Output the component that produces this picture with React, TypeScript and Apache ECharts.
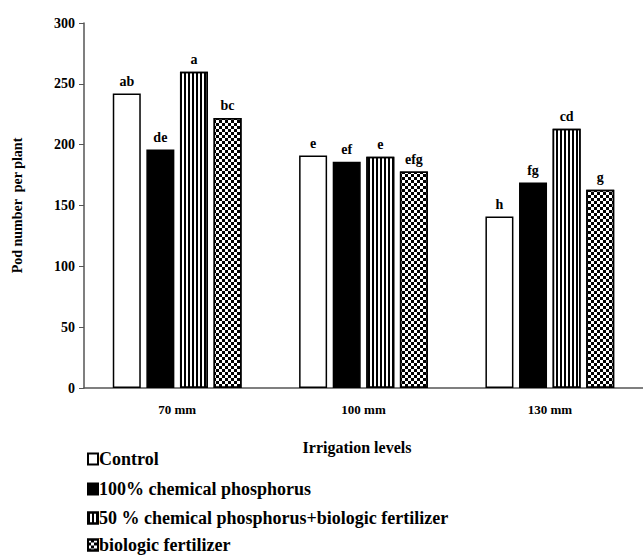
import React, { useEffect, useRef } from "react";
import * as echarts from "echarts";

const categories = ["70 mm", "100 mm", "130 mm"];
const seriesNames = [
  "Control",
  "100% chemical phosphorus",
  "50 % chemical phosphorus+biologic fertilizer",
  "biologic fertilizer",
];
const controlValues = [242, 191, 141];
const chemicalValues = [196, 186, 169];
const mixedValues = [260, 190, 213];
const biologicValues = [222, 178, 163];

const controlLetters = ["ab", "e", "h"];
const chemicalLetters = ["de", "ef", "fg"];
const mixedLetters = ["a", "e", "cd"];
const biologicLetters = ["bc", "efg", "g"];

const yTicks = [0, 50, 100, 150, 200, 250, 300];

const FONT = "'Liberation Serif', 'Times New Roman', serif";

export default function App() {
  const ref = useRef<HTMLDivElement>(null);
  useEffect(() => {
    if (!ref.current) return;
    const chart = echarts.init(ref.current, undefined, { renderer: "svg" });
    const mkLabel = (letters: string[]) => ({
      show: true,
      position: "top" as const,
      distance: 5,
      formatter: (p: any) => letters[p.dataIndex],
      fontFamily: FONT,
      fontWeight: "bold" as const,
      fontSize: 14,
      color: "#000",
    });
    const base = {
      type: "bar" as const,
      barWidth: 28,
      barGap: "20%",
    };
    const values = [controlValues, chemicalValues, mixedValues, biologicValues];
    const letters = [controlLetters, chemicalLetters, mixedLetters, biologicLetters];
    const styles: any[] = [
      { color: "#fff", borderColor: "#000", borderWidth: 1.5 },
      { color: "#000", borderColor: "#000", borderWidth: 1.5 },
      {
        color: "#fff",
        borderColor: "#000",
        borderWidth: 1.5,
        decal: {
          symbol: "rect",
          symbolSize: 1,
          color: "#000",
          backgroundColor: "#fff",
          dashArrayX: [1.5, 2],
          dashArrayY: [10, 0],
          rotation: 0,
        },
      },
      {
        color: "#fff",
        borderColor: "#000",
        borderWidth: 1.5,
        decal: {
          symbol: "rect",
          symbolSize: 1,
          color: "#000",
          backgroundColor: "#fff",
          dashArrayX: [
            [3, 3],
            [0, 3, 3, 0],
          ],
          dashArrayY: [3, 0],
          rotation: 0,
        },
      },
    ];
    const legendTops = [445, 475, 504, 531];
    const legends = seriesNames.map((name, i) => ({
      orient: "vertical",
      left: 82,
      top: legendTops[i],
      itemWidth: 10,
      itemHeight: 11,
      itemGap: 0,
      icon: "rect",
      selectedMode: false,
      textStyle: {
        fontFamily: FONT,
        fontWeight: "bold",
        fontSize: 18,
        color: "#000",
        padding: [0, 0, 0, -4],
      },
      data: [name],
    }));
    const option: any = {
      animation: false,
      backgroundColor: "#fff",
      grid: { left: 84, top: 23, width: 564, height: 365 },
      legend: legends,
      xAxis: {
        type: "category",
        data: categories,
        axisLine: { lineStyle: { color: "#555", width: 1.5 } },
        axisTick: { show: false },
        axisLabel: {
          fontFamily: FONT,
          fontWeight: "bold",
          fontSize: 13,
          color: "#000",
          margin: 15,
        },
      },
      yAxis: {
        type: "value",
        min: 0,
        max: 300,
        interval: 50,
        name: "Pod number  per plant",
        nameLocation: "middle",
        nameGap: 60,
        nameTextStyle: {
          fontFamily: FONT,
          fontWeight: "bold",
          fontSize: 14,
          color: "#000",
        },
        axisLine: { show: true, lineStyle: { color: "#555", width: 1.5 } },
        axisTick: { show: true, length: 5, lineStyle: { color: "#555" } },
        splitLine: { show: false },
        axisLabel: {
          fontFamily: FONT,
          fontWeight: "bold",
          fontSize: 14,
          color: "#000",
          margin: 9,
          customValues: yTicks,
        },
      },
      graphic: [
        {
          type: "text",
          x: 357,
          y: 447,
          style: {
            text: "Irrigation levels",
            fontFamily: FONT,
            fontWeight: "bold",
            fontSize: 16,
            fill: "#000",
            align: "center",
            verticalAlign: "middle",
          },
        },
      ],
      series: seriesNames.map((name, i) => ({
        ...base,
        name,
        data: values[i],
        itemStyle: styles[i],
        label: mkLabel(letters[i]),
      })),
    };
    chart.setOption(option);
    return () => chart.dispose();
  }, []);
  return (
    <div
      ref={ref}
      style={{ position: "fixed", left: 0, top: 0, width: 643, height: 556 }}
    />
  );
}
